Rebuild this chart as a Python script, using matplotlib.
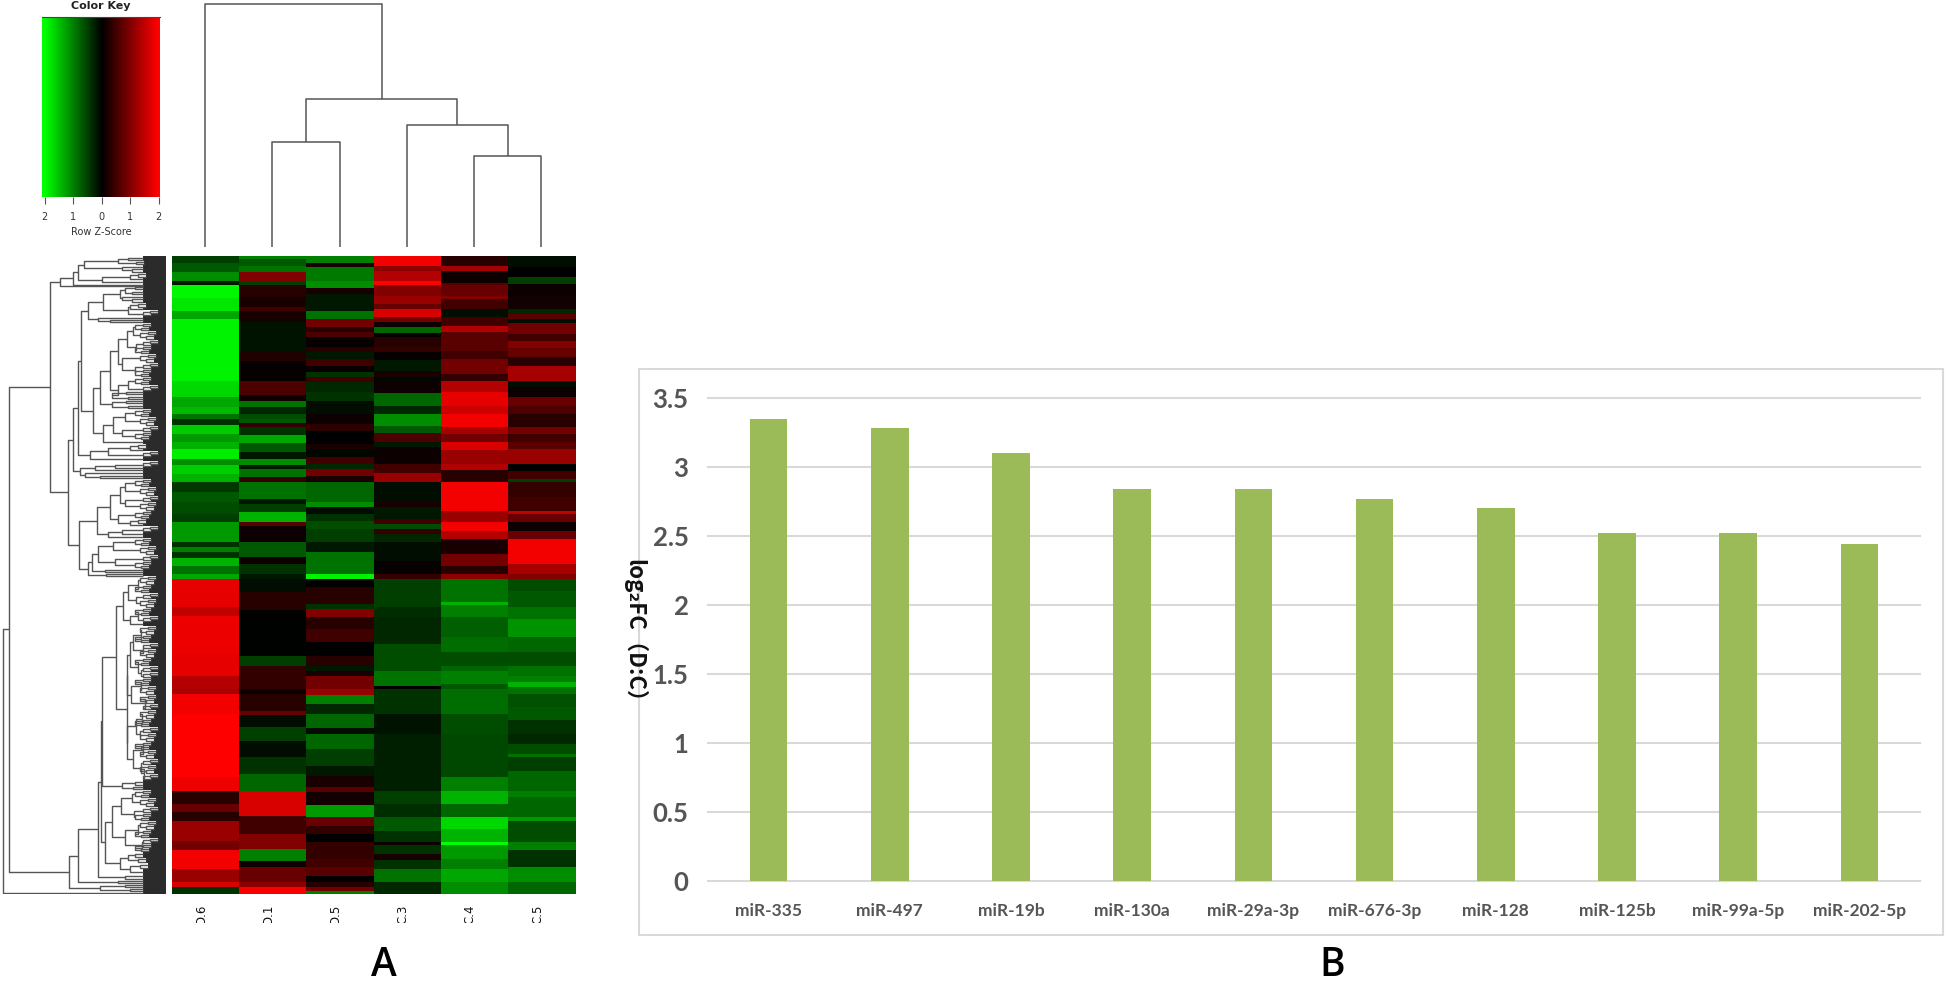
import numpy as np
import matplotlib
matplotlib.use("Agg")
import matplotlib.pyplot as plt
from matplotlib.colors import LinearSegmentedColormap
from matplotlib.collections import LineCollection
from matplotlib.patches import Rectangle
from matplotlib.transforms import Bbox

W, H = 1946, 982

# ---------- panel B data ----------
mirnas = ["miR-335", "miR-497", "miR-19b", "miR-130a", "miR-29a-3p",
          "miR-676-3p", "miR-128", "miR-125b", "miR-99a-5p", "miR-202-5p"]
log2fc = [3.35, 3.28, 3.10, 2.84, 2.84, 2.77, 2.70, 2.52, 2.52, 2.44]
y_ticks = [0, 0.5, 1, 1.5, 2, 2.5, 3, 3.5]
y_tick_labels = ["0", "0.5", "1", "1.5", "2", "2.5", "3", "3.5"]

# ---------- panel A data: bands of z-scores (value, last row of the band) ----------
samples = ["D.6", "D.1", "D.5", "C.3", "C.4", "C.5"]
key_ticks = [-2, -1, 0, 1, 2]
key_labels = ["2", "1", "0", "1", "2"]

D6 = [(-.5,7),(-.7,16),(-1.1,25),(-.2,29),(-1.95,42),(-1.8,55),(-1.3,63),(-1.9,125),(-1.7,141),(-1.3,151),(-1.45,158),
      (-.9,163),(-.4,169),(-1.6,178),(-1.2,186),(-1.4,193),(-1.85,203),(-1.1,209),(-1.6,218),(-1.4,226),
      (-.45,236),(-.7,246),(-.6,258),(-.5,266),(-1.2,286),(-.4,291),(-1,296),(-.4,302),(-1.4,310),(-.9,318),(-1.3,323),
      (1.8,351),(1.5,360),(1.85,398),(1.8,420),(1.4,433),(1.3,438),(1.9,458),(2,478),
      (2,521),(1.85,535),(.3,548),(.8,556),(.3,565),(1.2,585),(.9,594),(1.9,613),(1.2,626),(1.7,631),(-.4,638)]
D1 = [(-1,3),(-.7,10),(-.9,16),(1,25),(-.5,29),(.3,41),(.2,51),(.5,55),(.2,66),(-.15,96),(.25,105),(.05,125),(.6,139),(.1,145),(-.9,151),(-.3,158),
      (-.6,163),(-.7,167),(.4,171),(-.4,179),(-1.3,187),(-.7,196),(-.2,203),(-1.1,209),(-.2,213),(-.9,221),(.4,226),
      (-.9,243),(-.2,248),(-.5,256),(-1.4,266),(.7,270),(.1,286),(-.7,301),(.1,308),(-.4,318),
      (-.2,323),(-.1,336),(.3,354),(-.02,400),(-.5,410),(.4,433),(.1,438),(.3,455),(.8,459),(-.1,471),(-.5,485),
      (-.1,501),(-.4,518),(-.8,535),(1.7,560),(.5,578),(1,593),(-1,605),(.1,611),(.8,626),(1.1,631),(1.95,638)]
D5 = [(-1,7),(.2,11),(-.95,25),(-1.1,32),(.2,38),(-.2,55),(-.9,63),(.9,71),(.3,76),(.6,81),(.05,91),(.3,96),(-.2,103),(.5,110),(.05,116),(-.4,121),(.5,126),(-.3,136),(-.4,145),(-.1,158),
      (.1,168),(.35,175),(0,188),(.2,193),(-.05,201),(.5,208),(-.3,213),(.9,220),(.2,226),
      (-.8,246),(-1.1,251),(-.1,258),(-.4,265),(-.6,273),(-.5,286),(-.2,296),(-.9,318),(-1.9,323),
      (0,331),(.3,348),(-.4,353),(1,361),(.3,373),(.5,386),(0,400),(.3,410),(-.2,415),(.2,420),(.9,433),(1.2,439),(-1,448),(-.3,458),(-.8,472),(-.1,478),
      (-.8,493),(-.5,510),(-.2,520),(.2,531),(.7,536),(.15,549),(-1.2,561),(.8,570),(.4,578),(0,586),(.4,603),(.5,611),(.7,620),(0,626),(.3,631),(.9,635),(-1,638)]
C3 = [(1.9,10),(1.1,15),(1.4,25),(2,29),(1,40),(1.2,48),(.8,53),(1.7,61),(.9,66),(.1,71),(-.8,77),(0,81),(.3,91),(.4,96),(.05,104),(-.2,115),(.2,121),(-.05,126),(.1,137),(-.8,150),(-.3,158),
      (-1.1,170),(-.7,177),(.6,186),(-.2,191),(.1,208),(.5,217),(1.2,226),(-.1,246),(.2,251),(-.2,263),(.5,268),(-.6,273),(.4,278),(-.3,286),(-.1,305),(.05,318),(.4,323),
      (-.5,351),(-.35,361),(-.3,388),(-.6,415),(-.9,430),(0,433),(-.4,458),(-.15,478),
      (-.25,535),(-.5,548),(-.35,561),(-.7,575),(-.4,586),(.1,589),(-.4,598),(.2,604),(-.4,613),(-.9,626),(-.3,638)]
C4 = [(.3,10),(1.3,15),(.1,27),(.7,29),(.8,40),(1,43),(.5,53),(-.1,61),(.5,70),(1.4,76),(.7,95),(.5,103),(.9,118),(.4,125),(1.4,136),(1.8,150),(1.6,158),
      (1.9,171),(1.3,178),(.9,186),(1.7,194),(1.2,208),(1.4,214),(.3,226),(1.9,255),(1.2,266),(1.9,275),(1.4,283),(.2,298),(.9,310),(.3,318),(1.1,323),
      (-.9,346),(-1.4,349),(-1,361),(-.75,381),(-.85,396),(-.6,410),(-.8,415),(-1,428),(-.7,433),(-.85,458),(-.6,478),
      (-.55,521),(-1,535),(-1.4,548),(-.8,561),(-1.7,573),(-1.4,586),(-2,589),(-1.2,603),(-1,613),(-1.3,626),(-1.1,638)]
C5 = [(-.1,11),(0,21),(-.5,28),(.1,41),(.15,53),(-.3,58),(.7,63),(-.1,67),(.9,78),(.5,85),(1,92),(.8,101),(.3,110),(1.3,125),(-.1,131),(.1,141),(.8,150),(.6,158),
      (.3,171),(.9,178),(.5,186),(.7,193),(1.2,208),(0,215),(.5,223),(-.5,226),(.4,241),(.5,255),(1.5,258),(.8,266),(.1,275),(.8,283),(1.9,308),(1.3,318),(1,323),
      (-.6,335),(-.7,351),(-.9,363),(-1.15,381),(-.8,396),(-.6,410),(-.9,420),(-1,426),(-1.4,431),(-.9,438),(-.65,451),(-.7,464),(-.4,478),
      (-.3,488),(-.6,498),(-.9,501),(-.5,515),(-.8,535),(-1,541),(-.8,561),(-1.2,565),(-.6,586),(-1,594),(-.4,611),(-1.1,626),(-.8,638)]
sample_bands = [D6, D1, D5, C3, C4, C5]

# sample dendrogram: (height, left, right) with leaves as None
col_tree = (243, None, (148, (105, None, None), (122, None, (91, None, None))))

# row dendrogram: (position of the merge, branch, branch); integers are leaf clusters (rows)
m1 = (125, (135, 2, 2), (132, 3, 2))
m2 = (118, (128, 3, 2), (136, 2, 2))
m3 = (130, (138, 2, 3), 2)
m4 = (122, 3, (132, 2, 3))
m5 = (112, (126, 2, 2), (128, 3, 2))
m6 = (135, (143, 2, 2), (141, 2, 2))
m7 = (140, (148, 2, 2), (146, 2, 3))
m8 = (143, (150, 2, 2), 2)
U1 = (60, (73, (78, (84, m2, m4), (102, m3, 4)), 1), 1)
A1 = (103, (120, m1, m4), (128, m3, m8))
A = (88, A1, (98, 3, (110, 2, 2)))
B1 = (100, (110, (118, (127, (133, m6, m7), (136, m8, m6)), (122, m7, (135, m8, m6))),
            (118, (128, m6, m8), m5)), m5)
B2 = (103, (113, (125, m6, m7), (122, m8, m6)), 4)
B = (93, B1, B2)
C1 = (90, (108, m3, m8), 4)
C2 = (80, (95, (115, m8, 2), 2), (85, 3, (100, 3, 2)))
U2a = (73, (78, (81, A, B), C1), C2)
P = (97, (110, (120, (125, m6, m7), (125, m8, m7)), (118, m6, m3)), (108, (122, m8, 3), 3))
Q = (88, (92, (98, (113, m6, m7), (115, m8, m6)), (105, 2, 2)), (106, 2, 1))
U2b = (79, P, Q)
U = (50, U1, (68, U2a, U2b))
L1a = (123, (128, (138, m7, m6), (136, m8, m7)), (130, (138, m6, m8), 4))
L1b = (127, (130, (133, (141, m7, m6), (143, m8, m7)), (138, m6, (141, m8, m8))),
       (131, (141, m6, m7), (145, m7, m8)))
L1c = (127, (136, (142, m7, m6), (140, m8, m7)), (133, (143, m6, m7), (141, m8, (144, m7, m8))))
Y = (116, L1a, (127, L1b, L1c))
L1 = (102, Y, (122, (135, 3, 3), (133, 2, 2)))
L2a = (112, (121, (132, m6, m7), (134, m8, m6)), (125, (138, m7, m6), (142, m8, m6)))
L2b = (120, (128, (135, 3, 3), (138, 2, 3)), (130, (140, 3, 3), 5))
L2 = (105, L2a, L2b)
M = (98, (101, L1, L2), (125, 3, 3))
L = (69, (78, M, (118, 2, 2)), (100, (125, 2, 2), (130, 2, 1)))
row_tree = (3, (9, U, L), 3)


# ---------- helpers ----------
def px_axes(x0, y0, x1, y1, **kw):
    """Axes from pixel box measured from the top-left of the figure."""
    return fig.add_axes([x0 / W, 1 - y1 / H, (x1 - x0) / W, (y1 - y0) / H], **kw)


def expand(bands):
    vals = [b[0] for b in bands]
    ends = [b[1] for b in bands]
    return np.repeat(vals, np.diff([0] + ends))


fig = plt.figure(figsize=(W / 100, H / 100), dpi=100, facecolor="white")
cmap = LinearSegmentedColormap.from_list("gbr", ["#00ff00", "#000000", "#ff0000"])
LINE = "#555555"

# ---------- heat map ----------
matrix = np.column_stack([expand(b) for b in sample_bands])
ax = px_axes(171.5, 256, 575, 894)
ax.imshow(matrix, cmap=cmap, vmin=-2, vmax=2, aspect="auto", interpolation="nearest",
          extent=(0, 6, matrix.shape[0], 0))
ax.set_xlim(0, 6)
ax.set_ylim(matrix.shape[0], 0)
ax.axis("off")
clip = Bbox.from_extents(0, H - 923, W, H - 890)
for i, s in enumerate(samples):
    t = fig.text((171.5 + (i + 0.5) * 67.25 - 4) / W, 1 - 924.5 / H, s, rotation=90, ha="center",
                 va="bottom", fontsize=8.5, color="#111111", family="DejaVu Sans")
    t.set_clip_on(True)
    t.set_clip_box(clip)

# ---------- sample dendrogram ----------
ax = px_axes(171.5, 4, 575, 247)
ax.set_xlim(0, 6)
ax.set_ylim(0, 243)
ax.axis("off")
col_segs = []
leaf_no = [0]


def walk_col(n):
    if n is None:
        leaf_no[0] += 1
        return leaf_no[0] - 0.5, 0
    ca, ha = walk_col(n[1])
    cb, hb = walk_col(n[2])
    col_segs.append([(ca, ha), (ca, n[0]), (cb, n[0]), (cb, hb)])
    return (ca + cb) / 2, n[0]


walk_col(col_tree)
ax.add_collection(LineCollection(col_segs, colors=LINE, linewidths=1.1, clip_on=False))

# ---------- row dendrogram ----------
ax = px_axes(0, 256, 166, 894)
row_segs, leaf_bands = [], []
cursor = [0]
LEAF_END, BAND_MIN = 166, 143


def walk_row(n, parent):
    if isinstance(n, int):
        c = cursor[0] + n / 2
        cursor[0] += n
        start = max(parent + 8, BAND_MIN)
        leaf_bands.append((c, n, start))
        return c, start
    ca, xa = walk_row(n[1], n[0])
    cb, xb = walk_row(n[2], n[0])
    row_segs.append([(xa, ca), (n[0], ca), (n[0], cb), (xb, cb)])
    return (ca + cb) / 2, n[0]


walk_row(row_tree, 0)
total = cursor[0]
for c, n, start in leaf_bands:
    ax.barh(c, LEAF_END - start, left=start, height=n * 0.9, color="#2b2b2b", linewidth=0)
ax.add_collection(LineCollection(row_segs, colors=LINE, linewidths=1.0))
ax.set_xlim(0, 166)
ax.set_ylim(total, 0)
ax.axis("off")

# ---------- colour key ----------
ax = px_axes(42, 17, 160, 197)
gradient = np.linspace(-2.1, 2.05, 256)[None, :]
ax.imshow(gradient, cmap=cmap, vmin=-2, vmax=2, aspect="auto", extent=(-2.1, 2.05, 0, 1))
ax.set_xlim(-2.1, 2.05)
ax.set_yticks([])
ax.set_xticks(key_ticks, key_labels, fontsize=7, color="#333333")
ax.tick_params(axis="x", length=5, width=0.8, color="#555555", pad=6)
for s in ax.spines.values():
    s.set_visible(False)
ax.spines["top"].set_visible(True)
ax.spines["top"].set_color("#444444")
fig.text(101 / W, 1 - 6 / H, "Color Key", ha="center", va="center", fontsize=8, fontweight="bold", color="#222222")
fig.text(101 / W, 1 - 232 / H, "Row Z-Score", ha="center", va="center", fontsize=7, color="#333333")

# ---------- bar chart ----------
GRID = "#d9d9d9"
fig.add_artist(Rectangle((639 / W, 1 - 935 / H), (1943 - 639) / W, (935 - 369) / H, transform=fig.transFigure,
                         facecolor="none", edgecolor=GRID, linewidth=1.5))
ax = px_axes(708, 398, 1920, 881)
x = np.arange(len(mirnas))
ax.bar(x, log2fc, width=0.31, color="#9bbb59", zorder=3)
ax.set_xlim(-0.5, len(mirnas) - 0.5)
ax.set_ylim(0, 3.5)
ax.set_yticks(y_ticks, y_tick_labels, fontsize=18.5, fontweight="bold", color="#555555", family="Lato")
ax.set_xticks(x, mirnas, fontsize=12.5, fontweight="bold", color="#555555", family="Lato")
ax.tick_params(axis="both", length=0)
ax.tick_params(axis="x", pad=15.5)
ax.tick_params(axis="y", pad=14)
ax.grid(axis="y", color=GRID, linewidth=1.5, zorder=0, clip_on=False)
for s in ax.spines.values():
    s.set_visible(False)
fig.text(634 / W, 1 - 636 / H, "log₂FC（D:C）", rotation=270, ha="center", va="center", fontsize=16,
         fontweight="bold", color="#111111", family=["Noto Sans CJK SC", "DejaVu Sans"])

# ---------- panel letters ----------
fig.text(384 / W, 1 - 966 / H, "A", ha="center", va="center", fontsize=28, fontweight=600, color="black", family="Open Sans")
fig.text(1332 / W, 1 - 966 / H, "B", ha="center", va="center", fontsize=28, fontweight=600, color="black", family="Open Sans")

fig.savefig("out.png", dpi=100, facecolor="white")
